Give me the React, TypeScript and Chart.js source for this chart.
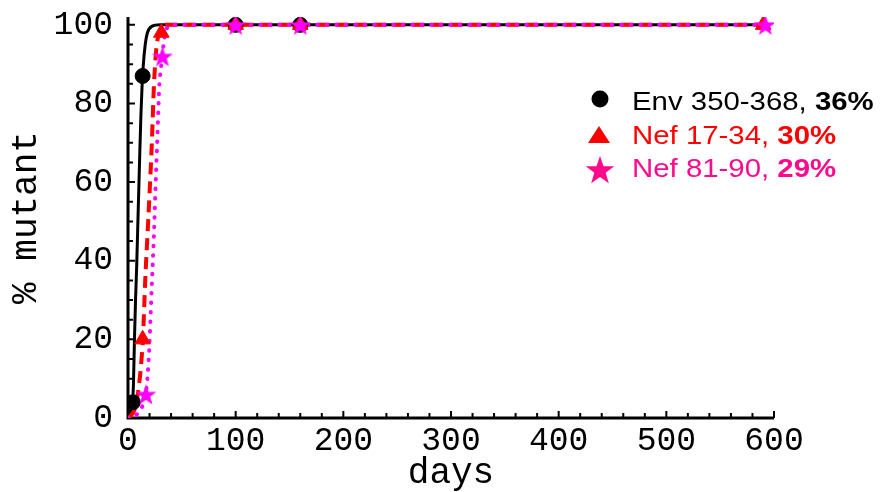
import React, { useEffect, useRef } from 'react';
import { Chart, registerables } from 'chart.js';
Chart.register(...registerables);

// Tick labels
const X_TICKS = [0, 100, 200, 300, 400, 500, 600];
const Y_TICKS = [0, 20, 40, 60, 80, 100];

// Observed data (markers)
const ENV_DAYS = [4.5, 13.6, 100, 160];
const ENV_VALUES = [4, 87, 100, 100];
const NEF17_DAYS = [13.6, 31, 100, 160, 590];
const NEF17_VALUES = [20, 98, 100, 100, 100];
const NEF81_DAYS = [16.7, 32, 100, 160, 592];
const NEF81_VALUES = [6, 92, 100, 100, 100];

// Fitted curves
const ENV_FIT_DAYS = [0, 2, 4, 5, 6, 7, 8, 9, 10, 11, 12, 13, 14, 16, 18, 22, 30, 592];
const ENV_FIT_VALUES = [0, 1.5, 4, 8, 20, 30, 38, 48, 58, 68, 77, 84, 89, 95, 98, 99.6, 100, 100];
const NEF17_FIT_DAYS = [0, 3, 6, 8, 10, 12, 14, 16, 18, 20, 22, 24, 26, 28, 31, 35, 592];
const NEF17_FIT_VALUES = [0, 0.7, 2, 4, 8, 13, 21, 35, 46, 57, 69, 84, 93, 97, 99, 100, 100];
const NEF81_FIT_DAYS = [0, 5, 10, 14, 17, 19, 20, 21, 22, 24, 26, 27, 29, 31, 33, 36, 40, 592];
const NEF81_FIT_VALUES = [0, 0.3, 1.5, 3.5, 7, 14, 19, 26, 33, 46, 62, 69, 84, 90, 95, 99, 100, 100];

const LEGEND_LABELS = ['Env 350-368, ', 'Nef 17-34, ', 'Nef 81-90, '];
const LEGEND_PCTS = ['36%', '30%', '29%'];
const LEGEND_COLORS = ['#000000', '#ff0000', '#ff0a8c'];

const pts = (xs: number[], ys: number[]) => xs.map((x, i) => ({ x, y: ys[i] }));

function starPath(ctx: CanvasRenderingContext2D, cx: number, cy: number, ro: number, ri: number) {
  ctx.beginPath();
  for (let i = 0; i < 10; i++) {
    const r = i % 2 === 0 ? ro : ri;
    const a = -Math.PI / 2 + (i * Math.PI) / 5;
    const px = cx + r * Math.cos(a);
    const py = cy + r * Math.sin(a);
    if (i === 0) ctx.moveTo(px, py);
    else ctx.lineTo(px, py);
  }
  ctx.closePath();
}

function makeStar(size: number, color: string) {
  const c = document.createElement('canvas');
  c.width = size;
  c.height = size;
  const ctx = c.getContext('2d')!;
  ctx.fillStyle = color;
  starPath(ctx, size / 2, size / 2 + 1, size / 2, size / 5);
  ctx.fill();
  return c;
}

const MONO = '"Liberation Mono", "Courier New", monospace';

export default function App() {
  const ref = useRef<HTMLCanvasElement>(null);
  useEffect(() => {
    if (!ref.current) return;
    const star = makeStar(22, '#ff00ff');

    const axesPlugin = {
      id: 'axesPlugin',
      beforeDatasetsDraw(chart: any) {
        const { ctx, scales } = chart;
        const xs = scales.x;
        const ys = scales.y;
        const x0 = xs.getPixelForValue(0);
        const y0 = ys.getPixelForValue(0);
        ctx.save();
        ctx.strokeStyle = '#000';
        ctx.lineWidth = 3;
        ctx.beginPath();
        ctx.moveTo(x0, ys.getPixelForValue(102));
        ctx.lineTo(x0, y0);
        ctx.lineTo(xs.getPixelForValue(600), y0);
        ctx.stroke();
        ctx.lineWidth = 2;
        ctx.beginPath();
        for (let v = 5; v <= 100; v += 5) {
          const y = ys.getPixelForValue(v);
          ctx.moveTo(x0, y);
          ctx.lineTo(x0 + (v % 20 === 0 ? 7 : 5), y);
        }
        for (let v = 20; v <= 600; v += 20) {
          const x = xs.getPixelForValue(v);
          ctx.moveTo(x, y0);
          ctx.lineTo(x, y0 - (v % 100 === 0 ? 7 : 5));
        }
        ctx.stroke();
        ctx.restore();
      },
      afterDraw(chart: any) {
        const { ctx } = chart;
        ctx.save();
        // legend markers
        ctx.fillStyle = '#000';
        ctx.beginPath();
        ctx.arc(600, 99, 8.5, 0, Math.PI * 2);
        ctx.fill();
        ctx.fillStyle = '#ff0000';
        ctx.beginPath();
        ctx.moveTo(599, 126);
        ctx.lineTo(610, 143);
        ctx.lineTo(588, 143);
        ctx.closePath();
        ctx.fill();
        ctx.fillStyle = '#ff0a8c';
        starPath(ctx, 600, 171, 15, 6);
        ctx.fill();
        const baselines = [110, 143.5, 177];
        for (let i = 0; i < 3; i++) {
          ctx.save();
          ctx.translate(632, baselines[i]);
          ctx.scale(1.13, 1);
          ctx.fillStyle = LEGEND_COLORS[i];
          ctx.textBaseline = 'alphabetic';
          ctx.font = '26px "Liberation Sans", Arial, sans-serif';
          ctx.fillText(LEGEND_LABELS[i], 0, 0);
          const w = ctx.measureText(LEGEND_LABELS[i]).width;
          ctx.font = 'bold 26px "Liberation Sans", Arial, sans-serif';
          ctx.fillText(LEGEND_PCTS[i], w, 0);
          ctx.restore();
        }
        ctx.restore();
      },
    };

    const chart = new Chart(ref.current, {
      type: 'line',
      data: {
        datasets: [
          {
            label: 'Env fit',
            data: pts(ENV_FIT_DAYS, ENV_FIT_VALUES),
            borderColor: '#000',
            borderWidth: 3,
            pointRadius: 0,
            cubicInterpolationMode: 'monotone',
            order: 6,
          },
          {
            label: 'Nef 17-34 fit',
            data: pts(NEF17_FIT_DAYS, NEF17_FIT_VALUES),
            borderColor: '#ff0000',
            borderWidth: 4,
            borderDash: [12, 7],
            pointRadius: 0,
            cubicInterpolationMode: 'monotone',
            order: 5,
          },
          {
            label: 'Nef 81-90 fit',
            data: pts(NEF81_FIT_DAYS, NEF81_FIT_VALUES),
            borderColor: '#ff00ff',
            borderWidth: 4,
            borderDash: [0.5, 9],
            borderCapStyle: 'round',
            pointRadius: 0,
            cubicInterpolationMode: 'monotone',
            order: 4,
          },
          {
            label: 'Env 350-368',
            data: pts(ENV_DAYS, ENV_VALUES),
            showLine: false,
            pointStyle: 'circle',
            pointRadius: 7.5,
            backgroundColor: '#000',
            borderColor: '#000',
            order: 3,
          },
          {
            label: 'Nef 17-34',
            data: pts(NEF17_DAYS, NEF17_VALUES),
            showLine: false,
            pointStyle: 'triangle',
            pointRadius: 9,
            backgroundColor: '#ff0000',
            borderColor: '#ff0000',
            order: 2,
          },
          {
            label: 'Nef 81-90',
            data: pts(NEF81_DAYS, NEF81_VALUES),
            showLine: false,
            pointStyle: star,
            pointRadius: 11,
            backgroundColor: '#ff00ff',
            borderColor: '#ff00ff',
            order: 1,
          },
        ],
      },
      options: {
        responsive: false,
        animation: false,
        layout: { padding: { left: 0, top: 17, right: 112, bottom: 0 } },
        plugins: { legend: { display: false }, tooltip: { enabled: false } },
        scales: {
          x: {
            type: 'linear',
            min: 0,
            max: 600,
            afterBuildTicks: (s: any) => {
              s.ticks = X_TICKS.map((v) => ({ value: v }));
            },
            afterFit: (s: any) => {
              s.height = 74;
              s.paddingLeft = 0;
              s.paddingRight = 0;
            },
            grid: { display: false, drawTicks: false },
            border: { display: false },
            ticks: {
              padding: 3,
              color: '#000',
              maxRotation: 0,
              autoSkip: false,
              font: { family: MONO, size: 33 },
            },
            title: {
              display: true,
              text: 'days',
              color: '#000',
              padding: { top: 0, bottom: 1 },
              font: { family: MONO, size: 36, lineHeight: 1 },
            },
          },
          y: {
            type: 'linear',
            min: 0,
            max: 102,
            afterBuildTicks: (s: any) => {
              s.ticks = Y_TICKS.map((v) => ({ value: v }));
            },
            afterFit: (s: any) => {
              s.width = 128;
              s.paddingTop = 0;
              s.paddingBottom = 0;
            },
            grid: { display: false, drawTicks: false },
            border: { display: false },
            ticks: {
              padding: 15,
              color: '#000',
              autoSkip: false,
              font: { family: MONO, size: 33 },
            },
            title: {
              display: true,
              text: '% mutant',
              color: '#000',
              padding: { top: 8, bottom: 0 },
              font: { family: MONO, size: 36, lineHeight: 1 },
            },
          },
        },
      },
      plugins: [axesPlugin],
    } as any);
    return () => chart.destroy();
  }, []);

  return (
    <div style={{ position: 'fixed', left: 0, top: 0, width: 886, height: 492, background: '#fff' }}>
      <canvas ref={ref} width={886} height={492} style={{ width: 886, height: 492, display: 'block' }} />
    </div>
  );
}
